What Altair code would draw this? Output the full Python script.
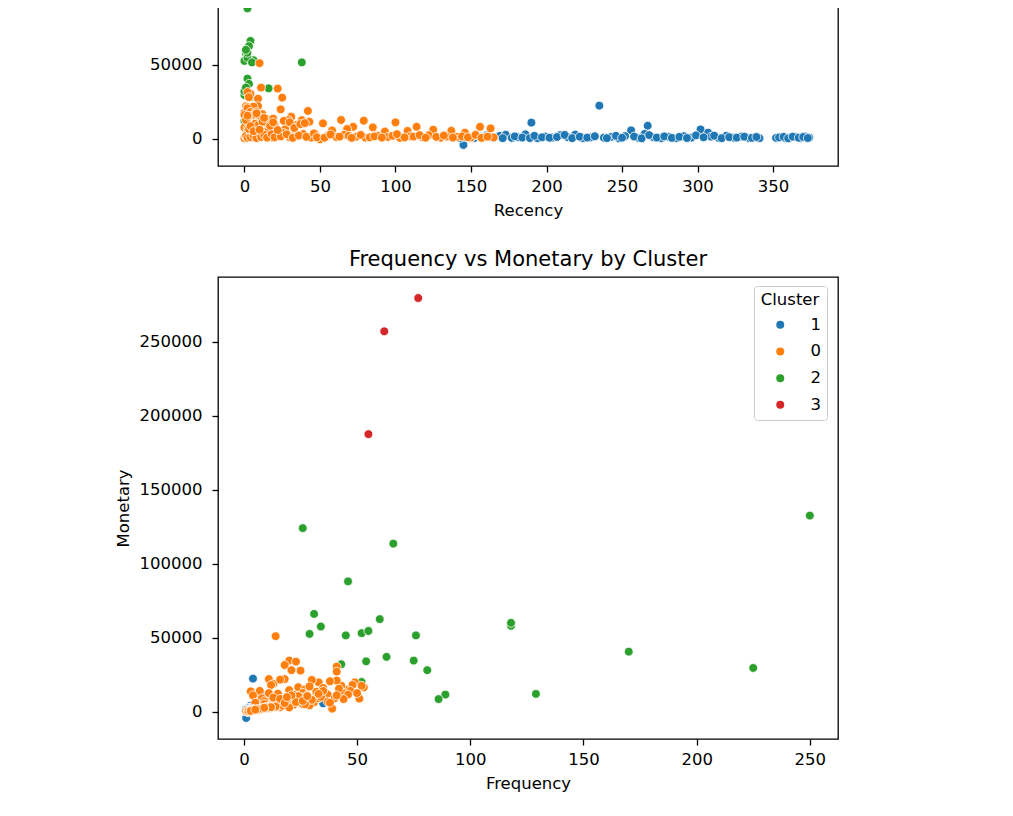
import altair as alt
import pandas as pd

cluster_order = ["1", "0", "2", "3"]
cluster_colors = ["#1f77b4", "#ff7f0e", "#2ca02c", "#d62728"]

# cluster 0 (orange)
recency_0 = [10, 11, 22, 4, 2, 25, 3, 9,
             24, 9, 42, 31, 1, 2, 0, 3, 5, 1, 6, 2, 4, 7, 8, 12, 14, 14, 3, 0, 5,
             43, 52, 64, 79, 100, 72, 85, 114, 125, 137, 156, 163, 18, 27, 33, 47,
             6, 15, 20, 29, 35, 2, 8, 13, 17, 38, 11, 58, 68, 93, 108, 146,
             0, 1, 3, 5, 7, 12, 16, 19, 23, 26, 30, 34, 39, 44, 50, 55, 61, 66,
             74, 80, 88, 95, 103, 110, 118, 122, 130, 134, 141, 150, 159, 165,
             2, 4, 9, 14, 21, 6, 10, 1, 3, 5, 7, 0, 4, 2, 8, 16, 19,
             1, 2, 4, 6, 8, 11, 13, 15, 18, 20,
             24, 28, 32, 36, 41, 46, 48, 53, 57, 63,
             69, 71, 77, 83, 86, 91, 98, 101, 106, 112,
             116, 120, 127, 132, 138, 144, 148, 153, 157, 161,
             3, 5, 7, 9, 12, 1, 4, 6, 10, 2,
             8, 13, 17, 19, 22, 26, 30, 33, 37, 40]
frequency_0 = [14, 20, 23, 41, 18, 25, 21, 41,
               33, 11, 13, 45, 18, 30, 43, 49, 41, 53, 16, 38, 48, 52, 12, 24, 3, 6, 7, 35, 27,
               22, 19, 26, 15, 28, 10, 17, 24, 12, 9, 20, 14, 51, 31, 39, 16,
               36, 25, 8, 11, 27, 32, 20, 4, 37, 44, 47, 10, 18, 7, 21, 11,
               1, 2, 5, 3, 8, 6, 12, 2, 9, 15, 4, 7, 13, 3, 2, 8, 4, 11,
               6, 3, 9, 5, 2, 7, 4, 10, 3, 6, 5, 2, 4, 3,
               10, 14, 17, 22, 26, 29, 20, 9, 13, 19, 24, 28, 33, 37, 5, 9, 32,
               4, 6, 3, 11, 2, 5, 8, 3, 10, 4,
               7, 12, 2, 9, 5, 14, 6, 3, 12, 5,
               8, 3, 10, 4, 6, 3, 8, 12, 4, 6,
               9, 3, 5, 8, 3, 6, 4, 9, 3, 5,
               23, 30, 34, 40, 46, 50, 44, 27, 38, 42,
               29, 35, 16, 21, 18, 33, 41, 26, 19, 28]
monetary_0 = [51000, 34500, 33800, 30400, 31500, 27700, 28000, 27000,
              19800, 22000, 18700, 14800, 22000, 21400, 17600, 19800, 21000, 16400, 21600,
              20500, 18000, 17500, 18000, 16500, 13700, 12000, 14000, 16000, 15000,
              11400, 10300, 12600, 12100, 11000, 8000, 7600, 8000, 6000, 5300, 8000, 6900,
              8800, 6300, 2000, 2900,
              13000, 10000, 9000, 12500, 9500, 12000, 14500, 11000, 11500, 12500, 14000,
              5500, 6500, 4800, 5200, 4000,
              300, 1200, 2500, 800, 3500, 1500, 4200, 600, 2200, 3800, 900, 1700, 3100,
              700, -500, 1800, 1000, 2600,
              1300, 700, 2000, 1100, 500, 1600, 900, 2300, 600, 1400, 1200, 700, 1000, 800,
              4500, 3000, 4000, 4800, 5000, 4300, 2800, 7000, 9500, 8200, 10500, 7500,
              9000, 6800, 6000, 5200, 13500,
              1800, 600, 1000, 2200, 400, 1100, 2600, 700, 3300, 900,
              1500, 2900, 500, 2100, 1200, 3500, 900, 600, 2800, 1300,
              1900, 500, 2500, 900, 1500, 700, 1900, 3000, 800, 1400,
              2400, 600, 1200, 2100, 700, 1500, 900, 2600, 500, 1300,
              6500, 8000, 10000, 9000, 11500, 12500, 8500, 5000, 6000, 15500,
              17000, 14000, 8600, 11000, 5800, 12000, 11000, 7200, 9800, 10500]

# cluster 1 (blue)
recency_1 = [235, 190, 267, 256, 302, 307, 145,
             140, 143, 148, 152, 156, 160, 165, 169, 173, 177, 181, 186, 194, 199,
             204, 209, 214, 219, 224, 229, 238, 243, 248, 252, 261, 265, 271, 276,
             281, 286, 291, 296, 309, 314, 319, 324, 329, 334, 338, 341,
             352, 355, 358, 361, 365, 368, 371, 374,
             146, 150, 158, 163, 171, 179, 184, 189, 192, 197,
             202, 207, 212, 217, 222, 227, 232, 240, 246, 250,
             258, 263, 268, 273, 278, 283, 288, 293, 299, 304,
             311, 316, 321, 326, 331, 336, 339, 354, 357, 360,
             363, 367, 370, 373]
frequency_1 = [4, 8, 6, 35, 5, 3, 1,
               2, 1, 3, 1, 2, 4, 1, 2, 3, 1, 2, 5, 1, 2,
               1, 3, 2, 4, 1, 2, 1, 2, 1, 3, 1, 4, 2, 1,
               2, 1, 3, 1, 2, 1, 2, 1, 3, 1, 2, 1,
               1, 2, 1, 1, 2, 1, 3, 1,
               1, 2, 1, 3, 1, 2, 1, 2, 3, 1,
               2, 1, 4, 1, 2, 1, 2, 1, 3, 1,
               2, 1, 2, 1, 3, 1, 2, 1, 2, 1,
               3, 1, 2, 1, 2, 1, 2, 1, 2, 1,
               1, 2, 1, 2]
monetary_1 = [22300, 10800, 8700, 5600, 6200, 4000, -4300,
              900, 400, 1500, 300, 1100, 2100, 600, 1800, 2600, 500, 900, 2900, 300, 1400,
              700, 2300, 1000, 2700, 400, 800, 600, 1200, 200, 1700, 500, 3200, 900, 400,
              1100, 300, 1600, 700, 1300, 500, 1900, 600, 1400, 400, 800, 300,
              500, 900, 300, 600, 1000, 400, 1500, 700,
              1300, 500, 800, 1200, 300, 1500, 700, 400, 1900, 900,
              600, 1100, 2500, 300, 1300, 700, 1600, 300, 1900, 600,
              1400, 200, 2400, 700, 1500, 500, 1200, 400, 2200, 900,
              2000, 300, 1000, 700, 1300, 500, 1100, 800, 1200, 200,
              1300, 600, 1100, 400]

# cluster 2 (green)
recency_2 = [1, 0, 3, 2, 4, 1, 3, 0, 38, 6, 2, 5, 2, 1, 2, 0, 0, 16, 3, 1, 4, 0, 7, 2, 3]
frequency_2 = [26, 250, 66, 46, 31, 34, 60, 29, 45, 52, 55, 76, 118, 118, 170, 225,
               43, 54, 63, 75, 81, 129, 89, 86, 52]
monetary_2 = [124000, 132500, 113500, 88000, 66000, 57500, 62500, 52500, 51500, 53000,
              54500, 51500, 58000, 60000, 40500, 29500, 32000, 34000, 37000, 34500,
              28000, 12000, 11500, 8500, 20000]

# cluster 3 (red)
recency_3 = [1, 4, 0]
frequency_3 = [62, 55, 77]
monetary_3 = [257000, 187500, 279500]

frames = []
for label, rec, freq, mon in [("1", recency_1, frequency_1, monetary_1),
                              ("2", recency_2, frequency_2, monetary_2),
                              ("0", recency_0, frequency_0, monetary_0),
                              ("3", recency_3, frequency_3, monetary_3)]:
    frames.append(pd.DataFrame({"Recency": rec, "Frequency": freq,
                                "Monetary": mon, "Cluster": label}))
df = pd.concat(frames, ignore_index=True)
df["draw"] = range(len(df))

font = "DejaVu Sans"
y_dom = [-18500, 293700]

color_scale = alt.Scale(domain=cluster_order, range=cluster_colors)

points = dict(size=78, stroke="white", strokeWidth=0.8, opacity=1)

# upper panel: only its lower part is on the page, like the reference
top = alt.Chart(df).mark_circle(**points).encode(
    alt.X("Recency:Q").scale(domain=[-17.5, 393], nice=False, zero=False)
        .axis(values=[0, 50, 100, 150, 200, 250, 300, 350]),
    alt.Y("Monetary:Q").scale(domain=y_dom, nice=False, zero=False)
        .axis(values=[0, 50000], format="d", title=None),
    alt.Color("Cluster:N").scale(color_scale).legend(None),
    alt.Order("draw:Q"),
).properties(width=620, height=462)

bottom = alt.Chart(df).mark_circle(**points).encode(
    alt.X("Frequency:Q").scale(domain=[-11.45, 262.45], nice=False, zero=False)
        .axis(values=[0, 50, 100, 150, 200, 250]),
    alt.Y("Monetary:Q").scale(domain=y_dom, nice=False, zero=False)
        .axis(values=[0, 50000, 100000, 150000, 200000, 250000], format="d"),
    alt.Color("Cluster:N").scale(color_scale).legend(
        title="Cluster", orient="none", legendX=536, legendY=9, padding=6,
        strokeColor="#cccccc", fillColor="rgba(255,255,255,0.8)", cornerRadius=3,
        symbolType="circle", symbolSize=64, symbolStrokeWidth=0, symbolOpacity=1,
        symbolOffset=12, labelOffset=22, rowPadding=9.7, titlePadding=8,
        titleAnchor="middle", titleFont=font, titleFontSize=16.5,
        titleFontWeight="normal", titleColor="black",
        labelFont=font, labelFontSize=16.5, labelColor="black",
    ),
    alt.Order("draw:Q"),
).properties(
    width=620, height=462,
    title=alt.TitleParams("Frequency vs Monetary by Cluster", font=font, fontSize=21,
                          fontWeight="normal", color="black", anchor="middle", offset=7),
)

chart = alt.vconcat(top, bottom, spacing=111, bounds="flush").resolve_legend(
    color="independent"
).properties(
    padding={"left": 106, "top": -305, "right": 5, "bottom": 5}
).configure_axis(
    labelFont=font, labelFontSize=16.5, labelColor="black",
    titleFont=font, titleFontSize=16.5, titleFontWeight="normal", titleColor="black",
    tickColor="black", tickWidth=1.3, tickSize=6, titlePadding=8,
    domain=False, grid=False,
).configure_axisX(labelPadding=6).configure_axisY(labelPadding=10).configure_view(
    stroke="black", strokeWidth=1.3
)

chart.save("out.html", embed_options={"renderer": "svg", "actions": False})
